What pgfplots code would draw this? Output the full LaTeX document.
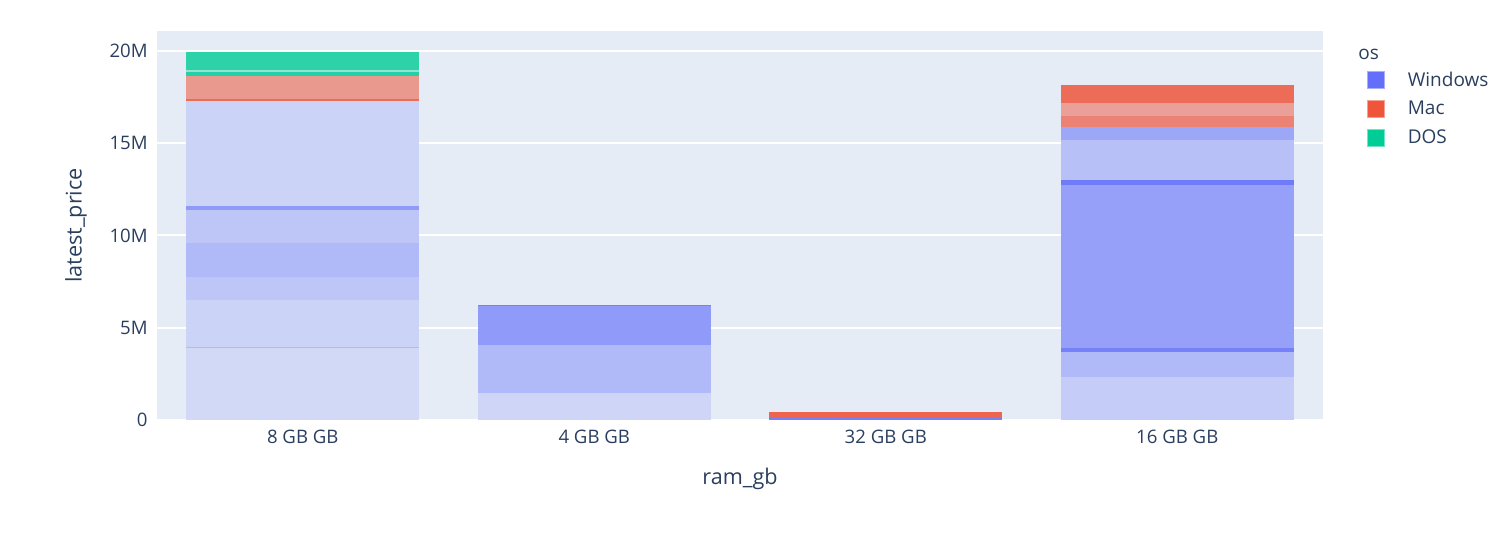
\documentclass[border=0pt]{standalone}
\usepackage{fontspec}
\setmainfont{Open Sans}
\usepackage{pgfplots}
\pgfplotsset{compat=1.18}
\definecolor{bgc}{HTML}{E5ECF6}
\definecolor{winc}{HTML}{636EFA}
\definecolor{macc}{HTML}{EF553B}
\definecolor{dosc}{HTML}{00CC96}
\definecolor{txtc}{HTML}{2A3F5F}
\pgfplotsset{
  seg/.style={fill=#1, draw=none, forget plot},
  legsq/.style={legend image code/.code={%
      \draw[##1, line width=0.4bp] (0bp,-4.25bp) rectangle (8.5bp,4.25bp);
      \path[draw=none, fill=none] (0bp,0bp) -- (20bp,0bp);}},
}
\begin{document}
\begin{tikzpicture}
\begin{axis}[
  name=ax,
  width=583bp, height=194.5bp, scale only axis,
  xmin=-0.5, xmax=3.5, ymin=0, ymax=21.08,
  axis background/.style={fill=bgc},
  axis line style={draw=none},
  ybar, bar width=0.8, bar shift=0pt,
  xtick={0,1,2,3}, xticklabels={8 GB GB,4 GB GB,32 GB GB,16 GB GB},
  ytick={0,5,10,15,20}, yticklabels={0,5M,10M,15M,20M},
  tick style={draw=none},
  ymajorgrids, grid style={white, line width=1bp},
  /pgf/number format/assume math mode=true,
  tick label style={font=\fontsize{9.3bp}{11bp}\selectfont, text=txtc},
  yticklabel style={anchor=east, inner sep=0pt, xshift=-4.5bp},
  xticklabel style={anchor=north, inner sep=0pt, yshift=-0.5bp},
  xlabel={ram\_gb}, ylabel={latest\_price},
  label style={font=\fontsize{10.8bp}{13bp}\selectfont, text=txtc},
  xlabel style={at={([yshift=-24bp]axis description cs:0.5,0)}, anchor=north, inner sep=0pt},
  ylabel style={at={([xshift=-40.5bp]axis description cs:0,0.5)}, anchor=center, inner sep=0pt},
  legend style={at={(axis description cs:1,1)}, anchor=north west, xshift=22bp, yshift=-20bp,
    draw=none, fill=none, inner sep=0pt, row sep=5.5bp,
    font=\fontsize{9.5bp}{11bp}\selectfont, text=txtc,
    nodes={inner sep=0pt}},
  legend cell align=left,
]
\addlegendimage{legsq, fill=winc, draw=winc!55!white}
\addlegendentry{Windows}
\addlegendimage{legsq, fill=macc, draw=macc!55!white}
\addlegendentry{Mac}
\addlegendimage{legsq, fill=dosc, draw=dosc!55!white}
\addlegendentry{DOS}

% ---- 8 GB GB (x=0): band tops, drawn from the highest down
\addplot[seg={dosc!80!bgc}] coordinates {(0,19.96)};
\addplot[seg={dosc!35!bgc}] coordinates {(0,18.97)};
\addplot[seg={dosc!85!bgc}] coordinates {(0,18.84)};
\addplot[seg={macc!55!bgc}] coordinates {(0,18.66)};
\addplot[seg={macc!85!bgc}] coordinates {(0,17.42)};
\addplot[seg={winc!20!bgc}] coordinates {(0,17.31)};
\addplot[seg={winc!65!bgc}] coordinates {(0,11.6)};
\addplot[seg={winc!30!bgc}] coordinates {(0,11.4)};
\addplot[seg={winc!40!bgc}] coordinates {(0,9.6)};
\addplot[seg={winc!30!bgc}] coordinates {(0,7.75)};
\addplot[seg={winc!20!bgc}] coordinates {(0,6.5)};
\addplot[seg={winc!40!bgc}] coordinates {(0,3.95)};
\addplot[seg={winc!15!bgc}] coordinates {(0,3.9)};

% ---- 4 GB GB (x=1)
\addplot[seg={macc!90!bgc}] coordinates {(1,6.25)};
\addplot[seg={winc!65!bgc}] coordinates {(1,6.17)};
\addplot[seg={winc!40!bgc}] coordinates {(1,4.07)};
\addplot[seg={winc!18!bgc}] coordinates {(1,1.46)};

% ---- 32 GB GB (x=2)
\addplot[seg={macc!90!bgc}] coordinates {(2,0.45)};
\addplot[seg={winc!85!bgc}] coordinates {(2,0.14)};

% ---- 16 GB GB (x=3)
\addplot[seg={macc!85!bgc}] coordinates {(3,18.14)};
\addplot[seg={macc!50!bgc}] coordinates {(3,17.2)};
\addplot[seg={macc!70!bgc}] coordinates {(3,16.5)};
\addplot[seg={winc!55!bgc}] coordinates {(3,15.86)};
\addplot[seg={winc!35!bgc}] coordinates {(3,15.18)};
\addplot[seg={winc!90!bgc}] coordinates {(3,13.0)};
\addplot[seg={winc!60!bgc}] coordinates {(3,12.74)};
\addplot[seg={winc!85!bgc}] coordinates {(3,3.9)};
\addplot[seg={winc!40!bgc}] coordinates {(3,3.7)};
\addplot[seg={winc!25!bgc}] coordinates {(3,2.33)};
\end{axis}
\node[anchor=west, inner sep=0pt, font=\fontsize{9.5bp}{11bp}\selectfont, text=txtc]
  at ([xshift=17.5bp,yshift=-11.5bp]ax.north east) {os};
\pgfresetboundingbox
\path ([xshift=-78.5bp,yshift=-57bp]ax.south west) rectangle ([xshift=89.5bp,yshift=15.5bp]ax.north east);
\end{tikzpicture}
\end{document}
